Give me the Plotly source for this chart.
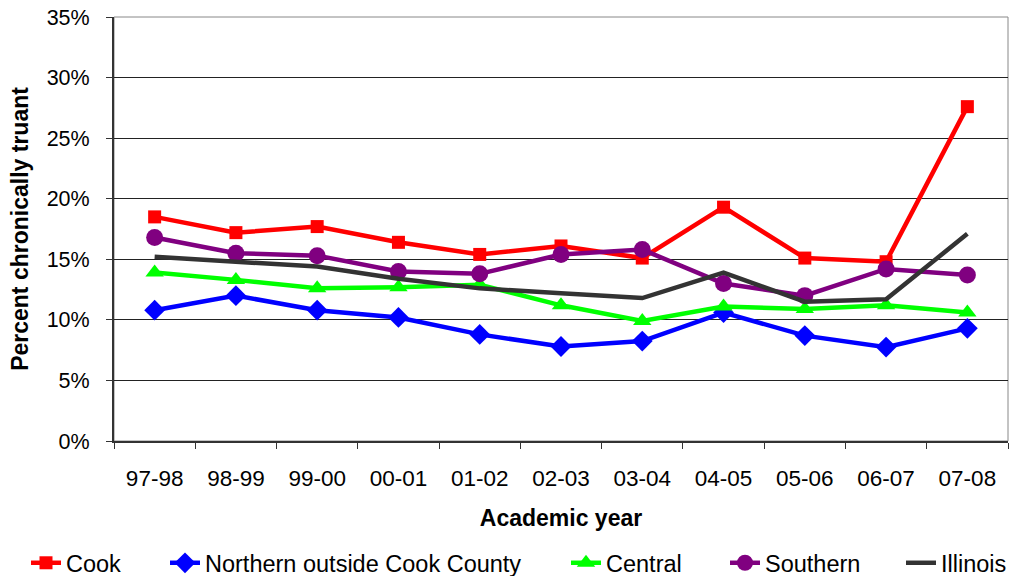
import plotly.graph_objects as go

years = ["97-98", "98-99", "99-00", "00-01", "01-02", "02-03", "03-04", "04-05", "05-06", "06-07", "07-08"]
cook = [18.5, 17.2, 17.7, 16.4, 15.4, 16.1, 15.1, 19.3, 15.1, 14.8, 27.6]
northern = [10.8, 12.0, 10.8, 10.2, 8.8, 7.8, 8.25, 10.6, 8.7, 7.75, 9.3]
central = [13.9, 13.3, 12.6, 12.7, 12.9, 11.2, 9.9, 11.1, 10.9, 11.2, 10.6]
southern = [16.8, 15.5, 15.3, 14.0, 13.8, 15.4, 15.8, 13.0, 12.0, 14.2, 13.7]
illinois = [15.2, 14.8, 14.4, 13.4, 12.6, 12.2, 11.8, 13.9, 11.5, 11.7, 17.1]
y_ticks = [0, 5, 10, 15, 20, 25, 30, 35]

series = [
    ("Cook", cook, "#FF0000", "square", 13),
    ("Northern outside Cook County", northern, "#0000FF", "diamond", 16),
    ("Central", central, "#00FF00", "triangle-up", 16),
    ("Southern", southern, "#800080", "circle", 17),
    ("Illinois", illinois, "#333333", None, 0),
]
# legend text start positions (container pixels) for each entry
legend_text_x = [66, 205, 606, 765, 941]

W, H = 1011, 576
font = "Liberation Sans, Arial, sans-serif"

fig = go.Figure()
legend_layouts = {}
for i, (name, vals, color, sym, size) in enumerate(series):
    lg = "legend" if i == 0 else f"legend{i + 1}"
    if sym:
        fig.add_trace(go.Scatter(x=years, y=vals, name=name, mode="lines+markers",
                                 line=dict(color=color, width=4.5),
                                 marker=dict(symbol=sym, size=size, color=color),
                                 legend=lg))
    else:
        fig.add_trace(go.Scatter(x=years, y=vals, name=name, mode="lines",
                                 line=dict(color=color, width=4.5), legend=lg))
    legend_layouts[lg] = dict(
        orientation="h", xref="container", yref="container",
        x=(legend_text_x[i] - 40) / W, xanchor="left",
        y=1 - 563 / H, yanchor="middle",
        font=dict(size=23.5, family=font), bgcolor="rgba(0,0,0,0)",
    )

fig.update_layout(
    width=W, height=H,
    margin=dict(l=114, r=3, t=17, b=135, autoexpand=False),
    paper_bgcolor="white", plot_bgcolor="white",
    font=dict(family=font, size=22, color="black"),
    showlegend=True,
    shapes=[dict(type="rect", xref="paper", yref="paper", x0=0, x1=1, y0=0, y1=1,
                 line=dict(color="#888888", width=1), layer="below")],
    **legend_layouts,
)
fig.update_xaxes(
    type="category", tickson="boundaries", ticks="outside", ticklen=6, tickcolor="#333333",
    showline=True, linecolor="#333333", linewidth=2, showgrid=False, automargin=False,
    range=[-0.5, 10.5], tickfont=dict(size=22.5), ticklabelstandoff=16,
    title=dict(text="<b>Academic year</b>", font=dict(size=23), standoff=20),
)
fig.update_yaxes(
    range=[0, 35], tickvals=y_ticks, ticktext=[f"{v}%" for v in y_ticks],
    ticks="outside", ticklen=6, tickcolor="#333333", automargin=False,
    showline=True, linecolor="#333333", linewidth=2, ticklabelstandoff=12,
    showgrid=True, gridcolor="#222222", gridwidth=1, zeroline=False,
    tickfont=dict(size=21.5),
    title=dict(text="<b>Percent chronically truant</b>", font=dict(size=23), standoff=12),
)
fig.write_html("out.html", config={"displayModeBar": False},
               post_script="document.body.style.margin='0px';")
